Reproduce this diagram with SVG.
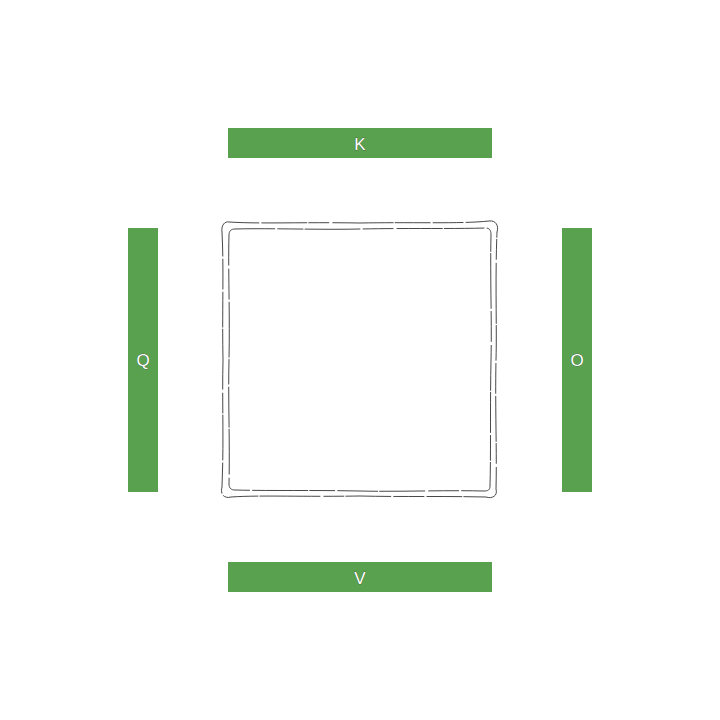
<svg xmlns="http://www.w3.org/2000/svg" width="720" height="720" viewBox="0 0 720 720">
<style>
.bar{fill:#59a14f}
.lbl{font-family:"Liberation Sans",Arial,sans-serif;font-size:17px;fill:#fff;stroke:#2a2a2a;stroke-width:0.4;paint-order:stroke;text-anchor:middle;dominant-baseline:central}
.sk{fill:none;stroke:#333;stroke-width:0.9;stroke-linecap:round}
</style>
<rect width="720" height="720" fill="#fff"/>
<g id="center">
<path d="M229,222 C260,224 300,222 360,223 C420,222 460,224 489,221 C496,220 499,226 497,232 C495,280 497,330 496,360 C495,410 497,450 496,489 C498,496 492,499 486,497 C440,496 400,497 360,496 C300,497 260,495 231,497 C224,499 220,494 222,487 C224,440 222,400 223,360 C222,310 224,270 222,232 C221,225 225,221 229,222 Z" class="sk" fill="#fff" stroke-dasharray="30 3 45 2 20 4 60 2 35 3"/>
<path d="M235,229 C270,228 320,230 360,229 C410,228 450,229 486,228 C490,228 491,231 491,235 C490,280 492,320 491,360 C490,410 491,450 490,486 C490,490 488,491 484,491 C440,490 400,492 360,491 C310,490 270,491 235,490 C231,490 229,488 229,484 C230,440 228,400 229,360 C230,310 228,270 229,235 C229,231 231,229 235,229 Z" class="sk" stroke-dasharray="40 3 25 2 55 3 30 4 45 2"/>
</g>
<g id="K"><rect class="bar" x="228" y="128" width="264" height="30"/><text class="lbl" x="360" y="144">K</text></g>
<g id="Q"><rect class="bar" x="128" y="228" width="30" height="264"/><text class="lbl" x="143" y="360">Q</text></g>
<g id="O"><rect class="bar" x="562" y="228" width="30" height="264"/><text class="lbl" x="577" y="360">O</text></g>
<g id="V"><rect class="bar" x="228" y="562" width="264" height="30"/><text class="lbl" x="360" y="578">V</text></g>
<g id="connectors"></g>
</svg>
